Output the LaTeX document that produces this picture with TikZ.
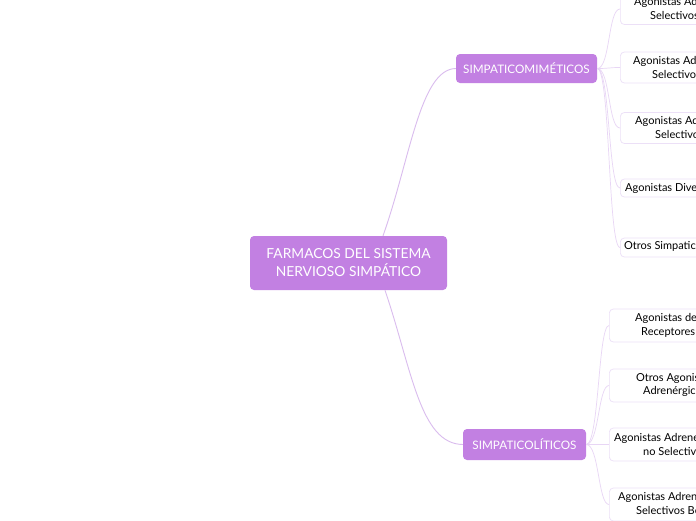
\documentclass[tikz,border=0pt]{standalone}
\usepackage{fontspec}
\setmainfont{Lato}
\definecolor{purp}{RGB}{194,128,226}
\definecolor{mainconn}{RGB}{218,188,238}
\definecolor{leafconn}{RGB}{232,214,245}
\definecolor{leafline}{RGB}{236,224,247}
\begin{document}
\begin{tikzpicture}[x=1pt,y=-1pt,
  mainbox/.style={fill=purp, draw=none, rounded corners=4pt, text=white, align=center, inner sep=0pt},
  leafbox/.style={draw=leafline, fill=white, rounded corners=4pt, line width=0.7pt, minimum width=110pt, minimum height=31pt, anchor=west, inner sep=0pt},
  ltext/.style={anchor=west, inner sep=0pt, font=\fontsize{11}{12}\selectfont, text=black},
  mconn/.style={draw=mainconn, line width=0.9pt},
  lconn/.style={draw=leafconn, line width=0.7pt}]
\useasboundingbox (0,0) rectangle (696,520);
\clip (0,0) rectangle (696,520);
\fill[white] (0,0) rectangle (696,520);

% main nodes
\node[mainbox, minimum width=197pt, minimum height=54pt, font=\fontsize{13.8}{18}\selectfont] (root) at (348.5,263) {FARMACOS DEL SISTEMA\\NERVIOSO SIMPÁTICO};
\node[mainbox, minimum width=141pt, minimum height=29pt, font=\fontsize{11.7}{14}\selectfont] (mim) at (526.5,68.5) {SIMPATICOMIMÉTICOS};
\node[mainbox, minimum width=123pt, minimum height=31pt, font=\fontsize{11.7}{14}\selectfont] (lit) at (524.5,444.5) {SIMPATICOLÍTICOS};

% main connectors
\draw[mconn] ([xshift=34.5pt]root.north) .. controls (410,160) and (420,69) .. (mim.west);
\draw[mconn] ([xshift=36.5pt]root.south) .. controls (412,370) and (420,444) .. (lit.west);

% leaf boxes, top group
\node[leafbox] (m1) at (620,9) {};
\node[leafbox] (m2) at (620,67.5) {};
\node[leafbox] (m3) at (620,128) {};
\node[leafbox, minimum height=18pt] (m4) at (620,188) {};
\node[leafbox, minimum height=19pt] (m5) at (620,247.5) {};
% leaf boxes, bottom group
\node[leafbox, minimum width=120pt, minimum height=33pt] (l1) at (609,325.5) {};
\node[leafbox, minimum width=120pt, minimum height=33pt] (l2) at (609,385.5) {};
\node[leafbox, minimum width=120pt, minimum height=33pt] (l3) at (609,444.5) {};
\node[leafbox, minimum width=120pt, minimum height=33pt] (l4) at (609,504.5) {};

% leaf connectors
\foreach \n in {m1,m2,m3,m4,m5}{
  \draw[lconn] (mim.east) .. controls +(13,0) and ([xshift=-12pt]\n.west) .. (\n.west);
}
\foreach \n in {l1,l2,l3,l4}{
  \draw[lconn] (lit.east) .. controls +(13,0) and ([xshift=-11pt]\n.west) .. (\n.west);
}

% leaf texts
\node[ltext] (m1a) at (634,2) {Agonistas Ad};
\node[ltext] (m1b) at (650,15) {Selectivos};
\node[ltext] (m2a) at (633,61) {Agonistas Ad};
\node[ltext] (m2b) at (652,74) {Selectivos};
\node[ltext] (m3a) at (635,121) {Agonistas Ad};
\node[ltext] (m3b) at (655,134) {Selectivo};
\node[ltext] (m4a) at (625,188) {Agonistas Dive};
\node[ltext] (m5a) at (624,246.5) {Otros Simpatic};

\node[ltext] (l1a) at (635,318.5) {Agonistas de};
\node[ltext] (l1b) at (641,332) {Receptores};
\node[ltext] (l2a) at (636,378.5) {Otros Agonis};
\node[ltext] (l2b) at (643,391.5) {Adrenérgic};
\node[ltext] (l3a) at (614,438) {Agonistas Adrene};
\node[ltext] (l3b) at (643,451) {no Selectiv};
\node[ltext] (l4a) at (618,497.5) {Agonistas Adren};
\node[ltext] (l4b) at (636,510.5) {Selectivos Be};
\end{tikzpicture}
\end{document}
